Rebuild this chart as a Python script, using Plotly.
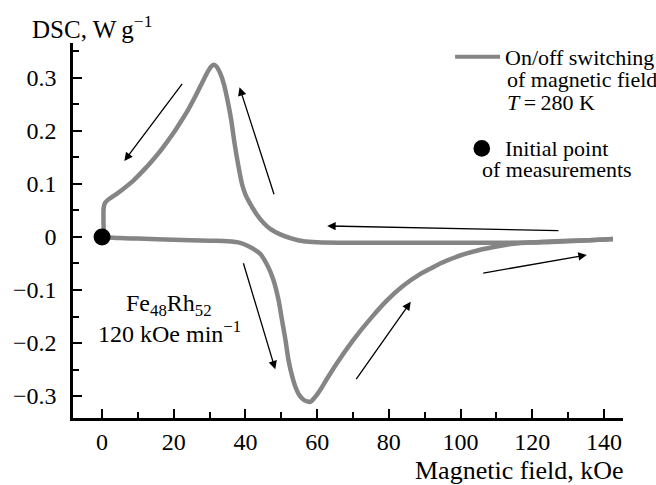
import plotly.graph_objects as go

# ---------------- data ----------------
# lower branch: field increasing from the initial point (0,0)
lower_x = [0, 5, 10, 20, 30, 35, 38.5, 41, 44, 46, 47.8, 49.2, 50.2, 51.2, 52.0,
           53.0, 53.9, 55.0, 56.2, 57.2, 58.1, 59.3, 60.8, 62.7, 65.5, 70.1,
           75, 79.4, 84, 88.7, 91.5, 94.3, 100.8, 105, 110, 114.6, 120, 123,
           130, 136, 142.5]
lower_y = [0, -0.002, -0.003, -0.005, -0.007, -0.008, -0.011, -0.018, -0.031,
           -0.052, -0.081, -0.118, -0.157, -0.196, -0.232, -0.262, -0.282,
           -0.298, -0.307, -0.310, -0.311, -0.303, -0.289, -0.268, -0.238,
           -0.194, -0.153, -0.120, -0.092, -0.070, -0.060, -0.050, -0.033,
           -0.025, -0.018, -0.013, -0.010, -0.009, -0.007, -0.006, -0.004]

# upper branch: field decreasing back to zero
upper_x = [142.5, 136, 130, 123, 110, 95, 80, 70, 60, 56.2, 53, 49.7, 47,
           45, 43, 41.3, 40, 39, 38, 37, 36, 35, 34, 33, 32, 31.2, 30.5,
           29.5, 28, 26, 24, 22, 20, 18, 16, 14, 12, 10, 8, 6, 4, 1.8,
           0.8, 0.45, 0.4, 0.4, 0]
upper_y = [-0.004, -0.006, -0.008, -0.010, -0.011, -0.011, -0.011, -0.011,
           -0.010, -0.008, -0.003, 0.005, 0.015, 0.027, 0.044, 0.063, 0.080,
           0.101, 0.135, 0.175, 0.222, 0.258, 0.288, 0.308, 0.321, 0.325,
           0.322, 0.312, 0.292, 0.265, 0.240, 0.218, 0.197, 0.178, 0.160,
           0.144, 0.129, 0.115, 0.102, 0.091, 0.081, 0.071, 0.064, 0.055,
           0.030, 0.005, 0.0]

initial_x = [0]
initial_y = [0]

x_ticks = [0, 20, 40, 60, 80, 100, 120, 140]
y_ticks = [-0.3, -0.2, -0.1, 0, 0.1, 0.2, 0.3]

# arrows: (tail), (head) in data units
arrows = [
    ((22.66, 0.2919), (6.22, 0.1434)),
    ((48.1, 0.0779), (38.35, 0.2825)),
    ((127.7, 0.0119), (62.8, 0.0208)),
    ((39.3, -0.0466), (48.3, -0.2496)),
    ((70.6, -0.2711), (86.1, -0.1221)),
    ((105.9, -0.0685), (135.2, -0.034)),
]

# ---------------- layout geometry ----------------
W, H = 656, 485
PX0, PX1, PY0, PY1 = 72.7, 623.0, 43.0, 417.7
X_RANGE = [-8.1, 145.3]
Y_RANGE = [-0.3415, 0.366]


def pxx(p):
    return (p - PX0) / (PX1 - PX0)


def pxy(p):
    return (PY1 - p) / (PY1 - PY0)


FONT = "Liberation Serif"
GRAY = "#858585"

fig = go.Figure()
fig.add_trace(go.Scatter(x=lower_x, y=lower_y, mode="lines",
                         line=dict(color=GRAY, width=4.5, shape="spline", smoothing=0.8),
                         showlegend=False, hoverinfo="skip"))
fig.add_trace(go.Scatter(x=upper_x, y=upper_y, mode="lines",
                         line=dict(color=GRAY, width=4.5, shape="spline", smoothing=0.8),
                         showlegend=False, hoverinfo="skip"))
fig.add_trace(go.Scatter(x=initial_x, y=initial_y, mode="markers",
                         marker=dict(color="black", size=17),
                         showlegend=False, hoverinfo="skip"))

annotations = []
for (tx, ty), (hx, hy) in arrows:
    annotations.append(dict(x=hx, y=hy, ax=tx, ay=ty, xref="x", yref="y",
                            axref="x", ayref="y", text="", showarrow=True,
                            arrowhead=2, arrowsize=1.3, arrowwidth=1.3,
                            arrowcolor="black", standoff=0, startstandoff=0))


def txt(s, x, y, size, xanchor="left", yanchor="middle"):
    annotations.append(dict(text=s, x=pxx(x), y=pxy(y), xref="paper", yref="paper",
                            xanchor=xanchor, yanchor=yanchor, showarrow=False,
                            font=dict(family=FONT, size=size, color="black"),
                            align="left"))


txt("DSC, W\u2009g<sup>\u22121</sup>", 30, 27, 25)
txt("Magnetic field, kOe", 626, 470, 26, xanchor="right")
txt("On/off switching", 503, 57, 22)
txt("of magnetic field", 505, 79.5, 22)
txt("<i>T</i>\u2009=\u2009280 K", 505, 102, 22)
txt("Initial point", 503, 148, 22)
txt("of measurements", 480, 169.5, 22)
txt("Fe<sub>48</sub>Rh<sub>52</sub>", 169, 305, 24, xanchor="center")
txt("120 kOe min<sup>\u22121</sup>", 169, 332, 24, xanchor="center")

shapes = [
    dict(type="line", xref="paper", yref="paper", x0=pxx(455), x1=pxx(500),
         y0=pxy(56.7), y1=pxy(56.7), line=dict(color=GRAY, width=4)),
    dict(type="circle", xref="paper", yref="paper", x0=pxx(481.7 - 8.3),
         x1=pxx(481.7 + 8.3), y0=pxy(148.3 + 8.3), y1=pxy(148.3 - 8.3),
         fillcolor="black", line=dict(color="black", width=0)),
]

fig.update_layout(
    width=W, height=H,
    margin=dict(l=PX0, r=W - PX1, t=PY0, b=H - PY1, pad=0),
    paper_bgcolor="white", plot_bgcolor="white",
    font=dict(family=FONT, size=24, color="black"),
    annotations=annotations, shapes=shapes, showlegend=False,
    xaxis=dict(range=X_RANGE, tickvals=x_ticks, ticks="inside", ticklen=9,
               tickwidth=2, tickcolor="black", showline=True, linecolor="black",
               linewidth=2.5, showgrid=False, zeroline=False,
               tickfont=dict(family=FONT, size=24), ticklabelstandoff=0,
               minor=dict(dtick=10, tick0=0, ticks="inside", ticklen=6,
                          tickwidth=2, tickcolor="black")),
    yaxis=dict(range=Y_RANGE, tickvals=y_ticks, ticks="inside", ticklen=9,
               tickwidth=2, tickcolor="black", showline=True, linecolor="black",
               linewidth=2.5, showgrid=False, zeroline=False,
               tickfont=dict(family=FONT, size=24), ticklabelstandoff=9,
               minor=dict(dtick=0.05, tick0=0, ticks="inside", ticklen=6,
                          tickwidth=2, tickcolor="black")),
)

fig.write_html(
    "out.html",
    config={"displayModeBar": False},
    post_script="document.body.style.margin='0';document.body.style.padding='0';",
)
